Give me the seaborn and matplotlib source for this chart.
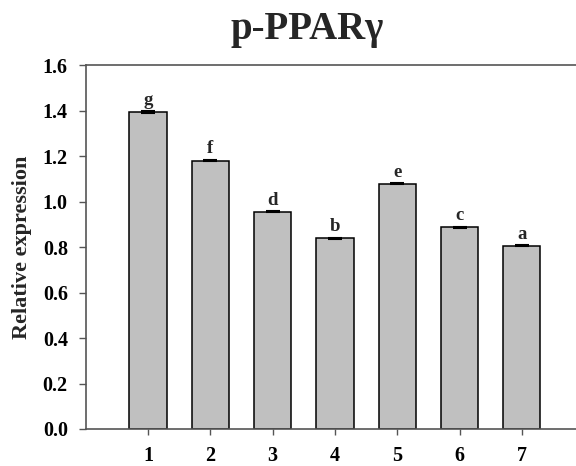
import matplotlib
matplotlib.use("Agg")
import matplotlib.pyplot as plt
import seaborn as sns
import pandas as pd

groups = ["1", "2", "3", "4", "5", "6", "7"]
values = [1.392, 1.180, 0.955, 0.838, 1.079, 0.887, 0.805]
errors = [0.004, 0.004, 0.002, 0.003, 0.003, 0.003, 0.002]
letters = ["g", "f", "d", "b", "e", "c", "a"]

sns.set_style("ticks")
plt.rcParams["font.family"] = ["Liberation Serif", "DejaVu Serif"]
plt.rcParams["font.weight"] = "bold"

df = pd.DataFrame({"group": groups, "value": values})

fig = plt.figure(figsize=(5.76, 4.66), dpi=100)
ax = fig.add_axes([0.149, 0.0794, 0.851, 0.7811])

sns.barplot(data=df, x="group", y="value", order=groups, color="#c0c0c0",
            edgecolor="black", linewidth=1.1, width=0.6, saturation=1, ax=ax)
for p in ax.patches:
    p.set_facecolor("#c0c0c0")

xs = list(range(len(groups)))
ax.errorbar(xs, values, yerr=errors, fmt="none", ecolor="black",
            elinewidth=1, capsize=5, capthick=1.5, zorder=5)
for x, v, e, l in zip(xs, values, errors, letters):
    ax.text(x, v + e + 0.01, l, ha="center", va="bottom", fontsize=13.5,
            fontweight="bold")

ax.set_xlim(-1, 6.87)
ax.set_ylim(0, 1.6)
ax.set_yticks([0.0, 0.2, 0.4, 0.6, 0.8, 1.0, 1.2, 1.4, 1.6])
ax.set_yticklabels([f"{t:.1f}" for t in ax.get_yticks()])
ax.tick_params(axis="both", labelsize=14.5, colors="#555555", labelcolor="black",
               direction="out")
ax.tick_params(axis="y", length=5, width=1, pad=8)
ax.tick_params(axis="x", length=4, width=1, pad=8)
for lab in ax.get_xticklabels() + ax.get_yticklabels():
    lab.set_fontweight("bold")

ax.set_xlabel("")
ax.set_ylabel("Relative expression", fontsize=16, fontweight="bold", labelpad=8)
ax.set_title("p-PPARγ", fontsize=28, fontweight="bold", pad=19, x=0.451)

for s in ["left", "top", "bottom"]:
    ax.spines[s].set_visible(True)
    ax.spines[s].set_color("#555555")
    ax.spines[s].set_linewidth(1.2)
ax.spines["right"].set_visible(False)

fig.savefig("out.png", dpi=100)
